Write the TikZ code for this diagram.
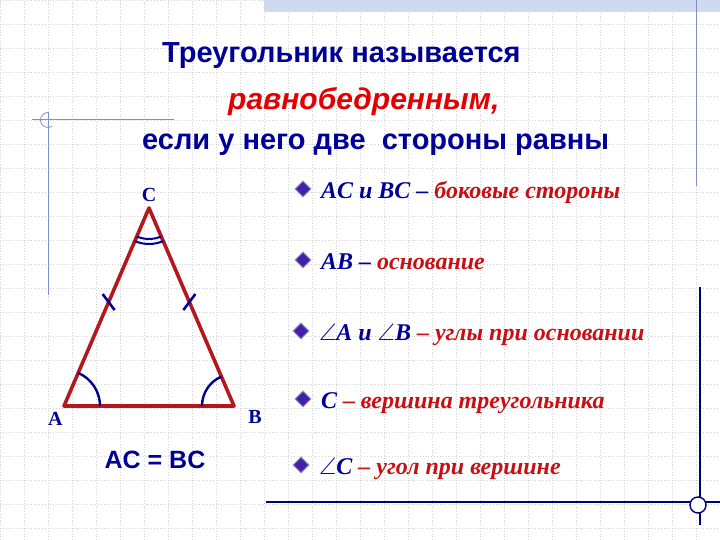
\documentclass[tikz,border=0pt]{standalone}
\usepackage{fontspec}
\setmainfont{Liberation Serif}
\setsansfont{Liberation Sans}
\usepackage{amssymb}
\usepackage{tkz-euclide}
\usetikzlibrary{calc,shapes.geometric}

\definecolor{navytext}{RGB}{0,0,150}
\definecolor{redtitle}{RGB}{228,0,0}
\definecolor{reditem}{RGB}{200,16,20}
\definecolor{trired}{RGB}{178,24,30}
\definecolor{decoline}{RGB}{128,144,190}
\definecolor{gridgray}{RGB}{210,210,210}
\definecolor{barblue}{RGB}{208,218,238}
\definecolor{markviolet}{RGB}{70,30,170}

\tikzset{
  gridline/.style={gridgray, dotted, line width=0.8pt},
  titletext/.style={font=\sffamily\bfseries\fontsize{29}{32}\selectfont, text=navytext, inner sep=0pt},
  itemtext/.style={font=\bfseries\itshape\fontsize{24}{26}\selectfont, text=navytext, inner sep=0pt, anchor=base west},
  itemmark/.style={diamond, fill=markviolet, draw=decoline, line width=1pt, minimum size=16pt, inner sep=0pt},
  vertexlabel/.style={font=\bfseries\fontsize{20}{22}\selectfont, text=navytext},
  sidetick/.style={navytext, line width=2.6pt},
}

\begin{document}
\begin{tikzpicture}[x=1pt,y=1pt]
\useasboundingbox (0,0) rectangle (720,540);
\draw[gridline, yshift=12pt] (0,-12) grid[step=24pt] (720,528);
\fill[barblue] (264,528) rectangle (720,540);

\draw[decoline, line width=1pt] (32,420) -- (174,420);
\draw[decoline, line width=1pt] (48,428) -- (48,245);
\draw[decoline, line width=0.8pt] (48,427.5) arc[start angle=90, end angle=300, radius=7.5];
\draw[decoline, line width=1pt] (696,540) -- (696,354);
\draw[navytext!80!black, line width=1.2pt] (700,253) -- (700,15);
\draw[navytext!80!black, line width=1.2pt] (266,38) -- (720,38);
\draw[navytext!80!black, line width=1.4pt, fill=white] (698,35) circle[radius=8];

\node[titletext, anchor=base west] (ttl1) at (162,477) {Треугольник называется};
\node[titletext, anchor=base west, text=redtitle, font=\sffamily\bfseries\itshape\fontsize{30}{33}\selectfont] (ttl2) at (228,430) {равнобедренным,};
\node[titletext, anchor=base west] (ttl3) at (142,390) {если у него две \ стороны равны};

\tkzDefPoint(64,134){A}
\tkzDefPoint(234,134){B}
\tkzDefPoint(149,332){C}
\tkzDrawPolygon[color=trired, line width=3.6pt](A,B,C)
\coordinate (tAC) at ($(A)!0.525!(C)$);
\coordinate (tBC) at ($(B)!0.525!(C)$);
\draw[sidetick] ($(tAC)+(-6,8)$) -- ($(tAC)+(6,-8)$);
\draw[sidetick] ($(tBC)+(-6,-8)$) -- ($(tBC)+(6,8)$);
\tkzMarkAngle[size=36, color=navytext, line width=2.4pt](B,A,C)
\tkzMarkAngle[size=32, color=navytext, line width=2.4pt](C,B,A)
\tkzMarkAngle[size=31, color=navytext, line width=2pt](A,C,B)
\tkzMarkAngle[size=36, color=navytext, line width=2pt](A,C,B)
\tkzLabelPoint[above, vertexlabel, yshift=2pt](C){C}
\tkzLabelPoint[below left, vertexlabel, xshift=3pt, yshift=-2pt](A){A}
\tkzLabelPoint[below right, vertexlabel, xshift=10pt](B){B}

\node[font=\sffamily\bfseries\fontsize{25}{28}\selectfont, text=navytext] (eq) at (155,80) {AC = BC};

\node[itemtext] (it1) at (320,341) {AC и BC – \textcolor{reditem}{боковые стороны}};
\node[itemtext] (it2) at (320,270) {AB – \textcolor{reditem}{основание}};
\node[itemtext] (it3) at (318,199) {$\angle$A и $\angle$B \textcolor{reditem}{– углы при основании}};
\node[itemtext] (it4) at (320,131) {C \textcolor{reditem}{– вершина треугольника}};
\node[itemtext] (it5) at (318,65) {$\angle$C \textcolor{reditem}{– угол при вершине}};
\foreach \i in {1,...,5}
  \node[itemmark] (mk\i) at ($(it\i.base west)+(-17,10)$) {};
\end{tikzpicture}
\end{document}
